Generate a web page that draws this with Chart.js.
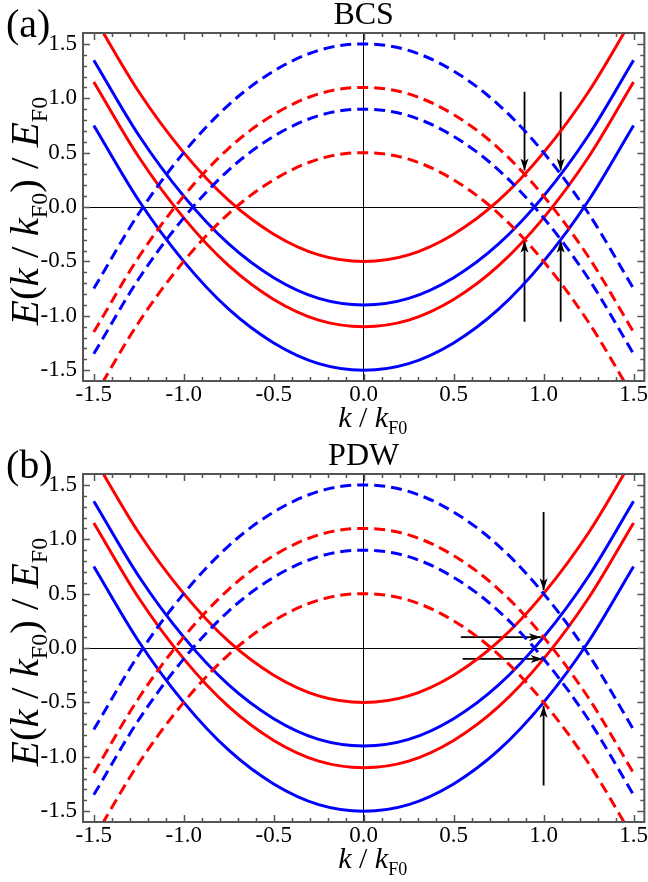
<!DOCTYPE html>
<html>
<head>
    <meta charset="utf-8" />
    <title>BCS / PDW band crossings</title>
    <script src="https://cdn.jsdelivr.net/npm/chart.js@4/dist/chart.umd.min.js"></script>
    <style>
        body, html {
            background: white;
            width: 100%;
            height: 100%;
            margin: 0;
            padding: 0;
            overflow: hidden;
        }
        canvas { display: block; }
    </style>
</head>
<body>
    <canvas id="chartA" width="648" height="441"></canvas>
    <canvas id="chartB" width="648" height="441"></canvas>

    <script>
        // k / kF0 sample points, shared by every curve
        const kGrid = [-1.5, -1.25, -1, -0.75, -0.5, -0.25, 0, 0.25, 0.5, 0.75, 1, 1.25, 1.5];

        // solid bands (electron-like)
        const redSolidUpper  = [1.75, 1.06, 0.5, 0.06, -0.25, -0.44, -0.5, -0.44, -0.25, 0.06, 0.5, 1.06, 1.75];
        const blueSolidUpper = [1.35, 0.66, 0.1, -0.34, -0.65, -0.84, -0.9, -0.84, -0.65, -0.34, 0.1, 0.66, 1.35];
        const redSolidLower  = [1.15, 0.46, -0.1, -0.54, -0.85, -1.04, -1.1, -1.04, -0.85, -0.54, -0.1, 0.46, 1.15];
        const blueSolidLower = [0.75, 0.06, -0.5, -0.94, -1.25, -1.44, -1.5, -1.44, -1.25, -0.94, -0.5, 0.06, 0.75];

        // dashed bands (hole-like)
        const blueDashedUpper = [-0.75, -0.06, 0.5, 0.94, 1.25, 1.44, 1.5, 1.44, 1.25, 0.94, 0.5, -0.06, -0.75];
        const redDashedUpper  = [-1.15, -0.46, 0.1, 0.54, 0.85, 1.04, 1.1, 1.04, 0.85, 0.54, 0.1, -0.46, -1.15];
        const blueDashedLower = [-1.35, -0.66, -0.1, 0.34, 0.65, 0.84, 0.9, 0.84, 0.65, 0.34, -0.1, -0.66, -1.35];
        const redDashedLower  = [-1.75, -1.06, -0.5, -0.06, 0.25, 0.44, 0.5, 0.44, 0.25, -0.06, -0.5, -1.06, -1.75];

        // arrows: [kStart, EStart, kEnd, EEnd]
        const arrowsBCS = [
            [0.894, 1.06, 0.894, 0.335],
            [1.095, 1.06, 1.095, 0.335],
            [0.894, -1.055, 0.894, -0.31],
            [1.095, -1.055, 1.095, -0.31]
        ];
        const arrowsPDW = [
            [1.0, 1.25, 1.0, 0.53],
            [1.0, -1.265, 1.0, -0.53],
            [0.54, 0.1, 0.985, 0.1],
            [0.55, -0.1, 0.995, -0.1]
        ];

        const xTicks = [-1.5, -1.0, -0.5, 0.0, 0.5, 1.0, 1.5];
        const yTicks = [-1.5, -1.0, -0.5, 0.0, 0.5, 1.0, 1.5];

        const RED = '#ff0000';
        const BLUE = '#0000ff';
        const FRAME = '#555555';
        const SERIF = '"Liberation Serif", "Times New Roman", serif';

        function curve(vals, color, dashed) {
            return {
                data: kGrid.map((k, i) => ({ x: k, y: vals[i] })),
                borderColor: color,
                borderWidth: 3,
                borderDash: dashed ? [11, 6] : [],
                pointRadius: 0,
                fill: false,
                cubicInterpolationMode: 'monotone',
                clip: 0
            };
        }

        function arrow(a) {
            return {
                data: [{ x: a[0], y: a[1] }, { x: a[2], y: a[3] }],
                borderColor: '#000',
                borderWidth: 1.8,
                pointRadius: 0,
                fill: false,
                arrow: true,
                clip: 0
            };
        }

        // draws a run of text pieces, roman / italic / subscript
        function richText(ctx, runs, size, subSize) {
            const fontOf = r => r.s === 'i' ? 'italic ' + size + 'px ' + SERIF
                              : r.s === 'sub' ? subSize + 'px ' + SERIF
                              : size + 'px ' + SERIF;
            let w = 0;
            runs.forEach(r => { ctx.font = fontOf(r); w += ctx.measureText(r.t).width; });
            let x = -w / 2;
            runs.forEach(r => {
                ctx.font = fontOf(r);
                ctx.fillText(r.t, x, r.s === 'sub' ? size * 0.22 : 0);
                x += ctx.measureText(r.t).width;
            });
        }

        const decorPlugin = {
            id: 'decor',
            afterDatasetsDraw(chart) {
                const ctx = chart.ctx;
                ctx.save();
                ctx.fillStyle = '#000';
                chart.data.datasets.forEach((ds, i) => {
                    if (!ds.arrow) return;
                    const pts = chart.getDatasetMeta(i).data;
                    const p0 = pts[0], p1 = pts[1];
                    const dx = p1.x - p0.x, dy = p1.y - p0.y;
                    const len = Math.hypot(dx, dy);
                    const ux = dx / len, uy = dy / len;
                    const nx = -uy, ny = ux;
                    const L = 12, W = 4, notch = 3;
                    ctx.beginPath();
                    ctx.moveTo(p1.x, p1.y);
                    ctx.lineTo(p1.x - L * ux + W * nx, p1.y - L * uy + W * ny);
                    ctx.lineTo(p1.x - (L - notch) * ux, p1.y - (L - notch) * uy);
                    ctx.lineTo(p1.x - L * ux - W * nx, p1.y - L * uy - W * ny);
                    ctx.closePath();
                    ctx.fill();
                });
                ctx.restore();
            },
            afterDraw(chart, args, opts) {
                const ctx = chart.ctx;
                const a = chart.chartArea;
                const xs = chart.scales.x, ys = chart.scales.y;
                ctx.save();

                // frame
                ctx.strokeStyle = FRAME;
                ctx.lineWidth = 2;
                ctx.strokeRect(a.left, a.top, a.right - a.left, a.bottom - a.top);

                // inward ticks on all four sides
                ctx.lineWidth = 1.5;
                ctx.beginPath();
                for (let i = -15; i <= 15; i++) {
                    const len = i % 5 === 0 ? 7 : 4;
                    const px = Math.round(xs.getPixelForValue(i / 10)) + 0.5;
                    ctx.moveTo(px, a.bottom); ctx.lineTo(px, a.bottom - len);
                    ctx.moveTo(px, a.top); ctx.lineTo(px, a.top + len);
                    const py = Math.round(ys.getPixelForValue(i / 10)) + 0.5;
                    ctx.moveTo(a.left, py); ctx.lineTo(a.left + len, py);
                    ctx.moveTo(a.right, py); ctx.lineTo(a.right - len, py);
                }
                ctx.stroke();

                ctx.fillStyle = '#000';
                ctx.textBaseline = 'alphabetic';

                // panel letter
                ctx.textAlign = 'left';
                ctx.font = '40px ' + SERIF;
                ctx.fillText(opts.letter, 6, 37);

                // x axis title
                ctx.textAlign = 'left';
                ctx.save();
                ctx.translate((a.left + a.right) / 2 + 9, 427);
                richText(ctx, [{ t: 'k', s: 'i' }, { t: ' / ', s: 'r' }, { t: 'k', s: 'i' }, { t: 'F0', s: 'sub' }], 30, 18);
                ctx.restore();

                // y axis title
                ctx.save();
                ctx.translate(38, (a.top + a.bottom) / 2 + 4);
                ctx.rotate(-Math.PI / 2);
                richText(ctx, [
                    { t: 'E', s: 'i' }, { t: '(', s: 'r' }, { t: 'k', s: 'i' }, { t: ' / ', s: 'r' },
                    { t: 'k', s: 'i' }, { t: 'F0', s: 'sub' }, { t: ') / ', s: 'r' },
                    { t: 'E', s: 'i' }, { t: 'F0', s: 'sub' }
                ], 41, 24);
                ctx.restore();

                ctx.restore();
            }
        };

        function makeChart(canvasId, title, letter, arrows) {
            const datasets = [
                curve(blueDashedUpper, BLUE, true),
                curve(redDashedUpper, RED, true),
                curve(blueDashedLower, BLUE, true),
                curve(redDashedLower, RED, true),
                curve(redSolidUpper, RED, false),
                curve(blueSolidUpper, BLUE, false),
                curve(redSolidLower, RED, false),
                curve(blueSolidLower, BLUE, false)
            ].concat(arrows.map(arrow));

            const tickFont = { family: SERIF, size: 23 };
            const zeroGrid = {
                drawTicks: false,
                lineWidth: 1,
                color: c => (c.tick && c.tick.value === 0) ? '#000' : 'rgba(0,0,0,0)'
            };

            return new Chart(document.getElementById(canvasId).getContext('2d'), {
                type: 'line',
                data: { datasets },
                options: {
                    responsive: false,
                    animation: false,
                    events: [],
                    layout: { padding: { left: 0, right: 1, top: 0, bottom: 0 } },
                    plugins: {
                        legend: { display: false },
                        tooltip: { enabled: false },
                        title: {
                            display: true,
                            text: title,
                            color: '#000',
                            fullSize: false,
                            font: { family: SERIF, size: 32, weight: 'normal', lineHeight: 1 },
                            padding: { top: 0, bottom: 1 }
                        },
                        decor: { letter }
                    },
                    scales: {
                        x: {
                            type: 'linear',
                            min: -1.56,
                            max: 1.56,
                            afterFit: s => { s.height = 60; },
                            afterBuildTicks: s => { s.ticks = xTicks.map(v => ({ value: v })); },
                            ticks: {
                                font: tickFont,
                                color: '#000',
                                padding: 0,
                                maxRotation: 0,
                                autoSkip: false,
                                callback: v => v.toFixed(1)
                            },
                            grid: zeroGrid,
                            border: { display: false }
                        },
                        y: {
                            type: 'linear',
                            min: -1.6,
                            max: 1.6,
                            afterFit: s => { s.width = 83; },
                            afterBuildTicks: s => { s.ticks = yTicks.map(v => ({ value: v })); },
                            ticks: {
                                font: tickFont,
                                color: '#000',
                                padding: 6,
                                autoSkip: false,
                                callback: v => v.toFixed(1)
                            },
                            grid: zeroGrid,
                            border: { display: false }
                        }
                    }
                },
                plugins: [decorPlugin]
            });
        }

        makeChart('chartA', 'BCS', '(a)', arrowsBCS);
        makeChart('chartB', 'PDW', '(b)', arrowsPDW);
    </script>
</body>
</html>
